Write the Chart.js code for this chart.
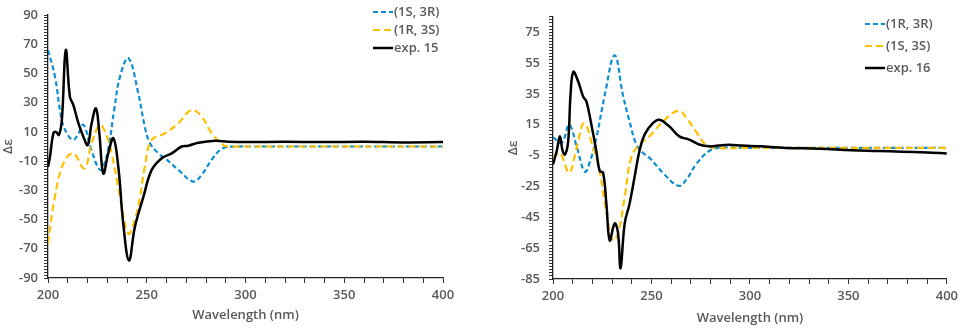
<!DOCTYPE html>
<html lang="en">
<head>
  <meta charset="UTF-8" />
  <title>CD spectra 15 / 16</title>
  <script src="https://cdn.jsdelivr.net/npm/chart.js"></script>
  <style>
    body { margin: 0; background: #fff; }
    .box { position: absolute; top: 0; }
    #leftBox { left: 0; }
    #rightBox { left: 482px; }
  </style>
</head>
<body>
  <div class="box" id="leftBox"><canvas id="chart15" width="480" height="330"></canvas></div>
  <div class="box" id="rightBox"><canvas id="chart16" width="480" height="330"></canvas></div>

  <script>
    // ---- compound 15 ----
    const nmBlue15 = [200, 203.5, 207, 210, 212.8, 215.5, 218, 222, 226.3, 228.5, 231, 233.5, 236.5, 240.7, 245.7, 249, 251.6, 255.9, 259.2, 266, 273.6, 278, 282.9, 287, 290, 295, 300, 350, 400];
    const cdBlue15 = [66, 48, 18, 8, 4.5, 9, 14.8, -2.4, -16, -12, 2, 25, 48, 60.5, 36.5, 13.6, 2.4, -4.7, -8, -16, -24, -19, -9, -2.5, -0.5, 0, 0, 0, 0];

    const nmYellow15 = [200, 203.5, 207.8, 212.8, 218.4, 222.1, 226.3, 229.5, 232.2, 236.5, 240.7, 244, 246.6, 249, 252.5, 259.2, 266, 272.8, 277.8, 282.9, 288.8, 292, 300, 350, 400];
    const cdYellow15 = [-66.5, -34.5, -11.5, -4.7, -15, 2.2, 14.8, 8, -4.5, -34.5, -59.6, -50, -34.5, -14, 4.5, 9, 16, 25, 20.5, 9, 1, 0, 0, 0, 0];

    const nmExp15 = [200, 201, 202.7, 204, 205.5, 207, 209, 211.1, 212.8, 215.4, 217.9, 220.1, 222.1, 224.3, 226, 228, 230.5, 233.1, 235.6, 238.1, 241, 244, 248.3, 252.5, 257.6, 262.6, 267.7, 271, 276.1, 284.6, 291.3, 300, 320, 340, 360, 380, 400];
    const cdExp15 = [-14, -7, 9, 10, 8, 18, 66, 34, 28.5, 16, 6.7, 1, 16, 26, 9, -18.5, -4.7, 5.6, -14, -52.7, -78, -55, -34.5, -16, -8, -4.7, 0, 0.5, 2.6, 4, 3.3, 3, 3.2, 3, 3.3, 2.8, 3];

    // ---- compound 16 ----
    const nmBlue16 = [200, 204.4, 208.2, 212.2, 216.2, 219, 222, 226.3, 231.3, 235.5, 238.9, 242.3, 245.5, 249, 255.7, 263.8, 268, 272.6, 279.3, 284.3, 300, 350, 400];
    const cdBlue16 = [6.9, 3.2, 15, 0, -15.4, -8, 6.4, 34.3, 60, 34.3, 17, 2.2, -3, -6.4, -16, -24.6, -20, -10.7, -2, 0, 0, 0, 0];

    const nmYellow16 = [200, 203.5, 208.2, 212, 215.8, 220.4, 223.7, 226.3, 228.8, 230.5, 233, 236.4, 239.7, 243.9, 249, 255.7, 263.8, 268, 272.6, 277.6, 282, 300, 350, 400];
    const cdYellow16 = [-6.4, -3.2, -16, 0, 16, 0, -15, -36, -53.5, -60, -55.7, -32, -6.4, 2.2, 7.5, 17, 24.2, 19, 10.7, 2, 0, 0, 0, 0];

    const nmExp16 = [200, 201.9, 203.5, 204.9, 206.1, 207.7, 208.9, 210.3, 212.8, 215.3, 217, 219.5, 222, 223.7, 225.4, 227.1, 228.8, 231.3, 233, 234.3, 236.4, 238.9, 241.4, 243.9, 246.5, 250.7, 254, 259, 264.1, 269.2, 274.2, 279.3, 284, 289.4, 296.1, 305, 318, 335, 351.7, 365, 377, 390, 400];
    const cdExp16 = [-10.7, -2, 7.5, -2, -4.3, 4.3, 34.3, 49.3, 43, 33.3, 30, 15, -2, -15, -16, -36, -60, -49, -55, -78, -49, -36, -19, -2, 8.6, 16, 18.2, 14, 7.5, 5.4, 2.2, 1, 1.5, 2, 1.5, 1, 0, -0.5, -1.5, -2, -2.5, -3, -3.6];

    const BLUE = "#0f8fd0";
    const GOLD = "#ffc000";
    const GREY = "#595959";
    const tickFont = { family: "Open Sans", size: 13, weight: "600" };

    const pts = (xs, ys) => xs.map((x, i) => ({ x: x, y: ys[i] }));

    // legend drawn in the top-right corner, Excel style
    const cornerLegend = {
      id: "cornerLegend",
      afterDraw(chart, args, opts) {
        const ctx = chart.ctx;
        ctx.save();
        ctx.font = '600 13px "Open Sans"';
        ctx.fillStyle = GREY;
        ctx.textBaseline = "middle";
        chart.data.datasets.forEach((ds, i) => {
          const y = opts.y + i * opts.gap;
          ctx.beginPath();
          ctx.setLineDash(ds.borderDash || []);
          ctx.strokeStyle = ds.borderColor;
          ctx.lineWidth = ds.borderWidth;
          ctx.moveTo(opts.x, y);
          ctx.lineTo(opts.x + 20, y);
          ctx.stroke();
          ctx.setLineDash([]);
          ctx.fillText(ds.label, opts.x + 21, y);
        });
        ctx.restore();
      }
    };

    function makeChart(id, cfg) {
      return new Chart(document.getElementById(id), {
        type: "line",
        data: {
          datasets: [
            { label: cfg.labels[0], data: cfg.blue, borderColor: BLUE, borderWidth: 2.2, borderDash: [5, 3], order: 2 },
            { label: cfg.labels[1], data: cfg.gold, borderColor: GOLD, borderWidth: 2.2, borderDash: [7, 4], order: 1 },
            { label: cfg.labels[2], data: cfg.exp, borderColor: "#000", borderWidth: 2.5, order: 0 }
          ]
        },
        options: {
          responsive: false,
          animation: false,
          elements: {
            point: { radius: 0 },
            line: { tension: 0.4, fill: false }
          },
          layout: { padding: { left: 0, right: cfg.padRight, top: cfg.padTop, bottom: 0 } },
          plugins: {
            legend: { display: false },
            tooltip: { enabled: false },
            cornerLegend: cfg.legend
          },
          scales: {
            x: {
              type: "linear",
              min: 200,
              max: 400,
              afterFit: (s) => { s.height = cfg.xHeight; },
              grid: { drawOnChartArea: false, tickLength: 5, tickColor: "#333" },
              border: { color: "#222", width: 1.3 },
              ticks: {
                stepSize: 10,
                autoSkip: false,
                maxTicksLimit: 100,
                maxRotation: 0,
                padding: 4,
                color: GREY,
                font: tickFont,
                callback: (v) => (Math.round(v) % 50 === 0 ? v : "")
              },
              title: {
                display: true,
                text: "Wavelength (nm)",
                color: GREY,
                font: tickFont,
                padding: { top: 0, bottom: cfg.xTitlePad }
              }
            },
            y: {
              min: cfg.yMin,
              max: cfg.yMax,
              afterFit: (s) => { s.width = cfg.yWidth; },
              grid: { drawOnChartArea: false, tickLength: 4, tickColor: "#333" },
              border: { color: "#222", width: 1.3 },
              ticks: {
                stepSize: 2,
                autoSkip: false,
                maxTicksLimit: 200,
                padding: cfg.yTickPad,
                color: GREY,
                font: tickFont,
                callback: (v) => (Math.round(v - cfg.yMin) % 20 === 0 ? v : "")
              },
              title: {
                display: true,
                text: "Δε",
                color: GREY,
                font: tickFont,
                padding: { top: cfg.yTitlePad, bottom: 0 }
              }
            }
          }
        },
        plugins: [cornerLegend]
      });
    }

    makeChart("chart15", {
      labels: ["(1S, 3R)", "(1R, 3S)", "exp. 15"],
      blue: pts(nmBlue15, cdBlue15),
      gold: pts(nmYellow15, cdYellow15),
      exp: pts(nmExp15, cdExp15),
      yMin: -90, yMax: 90,
      padTop: 15, padRight: 37,
      xHeight: 52, yWidth: 48,
      xTitlePad: 7, yTitlePad: 0, yTickPad: 6,
      legend: { x: 373, y: 12, gap: 18 }
    });

    makeChart("chart16", {
      labels: ["(1R, 3R)", "(1S, 3S)", "exp. 16"],
      blue: pts(nmBlue16, cdBlue16),
      gold: pts(nmYellow16, cdYellow16),
      exp: pts(nmExp16, cdExp16),
      yMin: -85, yMax: 85,
      padTop: 14, padRight: 13,
      xHeight: 51, yWidth: 71,
      xTitlePad: 4, yTitlePad: 23, yTickPad: 9,
      legend: { x: 383, y: 24, gap: 22 }
    });
  </script>
</body>
</html>
